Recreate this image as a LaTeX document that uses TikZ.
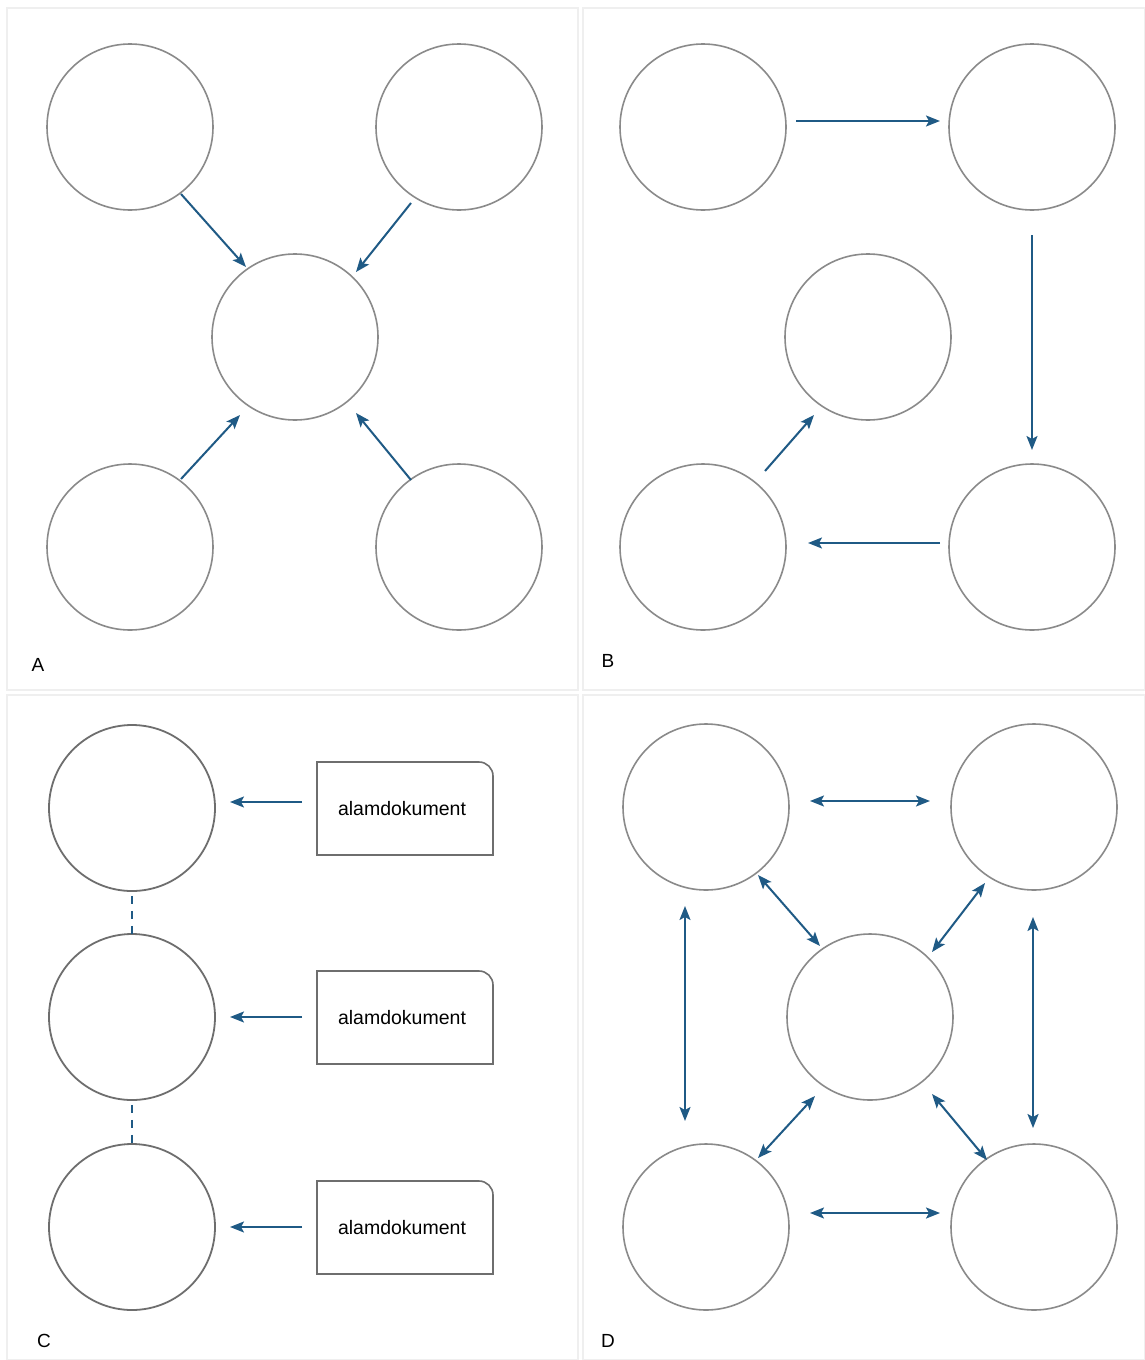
\documentclass[tikz,border=0pt]{standalone}
\usepackage{fontspec}
\setmainfont{Liberation Sans}
\usetikzlibrary{arrows.meta}
\definecolor{arr}{HTML}{1F5A85}
\definecolor{circ}{HTML}{8A8A8A}
\definecolor{circc}{HTML}{6E6E6E}
\definecolor{panel}{HTML}{EFEFEF}
\begin{document}
\begin{tikzpicture}[x=1pt,y=-1pt,
  bub/.style={circle,draw=circ,line width=1.6pt,minimum size=166pt,inner sep=0pt},
  bubc/.style={circle,draw=circc,line width=1.8pt,minimum size=166pt,inner sep=0pt},
  conn/.style={draw=arr,line width=2pt,-{Stealth[length=14pt,width=11pt,inset=3pt]}},
  bconn/.style={draw=arr,line width=2pt,{Stealth[length=14pt,width=11pt,inset=3pt]}-{Stealth[length=14pt,width=11pt,inset=3pt]}},
  dconn/.style={draw=arr,line width=2pt,dash pattern=on 8pt off 7pt},
  doctext/.style={font=\fontsize{19.5}{22}\selectfont},
  plabel/.style={font=\fontsize{19}{22}\selectfont,anchor=center},
  pan/.style={draw=panel,line width=1.2pt}]
\useasboundingbox (0,0) rectangle (1145,1360);
\fill[white] (0,0) rectangle (1145,1360);
% panels
\draw[pan] (7,8) rectangle (578,690);
\draw[pan] (583,8) rectangle (1145,690);
\draw[pan] (7,695) rectangle (578,1360);
\draw[pan] (583,695) rectangle (1145,1360);
% ---- Panel A
\node[bub] (a1) at (130,127) {};
\node[bub] (a2) at (459,127) {};
\node[bub] (a0) at (295,337) {};
\node[bub] (a3) at (130,547) {};
\node[bub] (a4) at (459,547) {};
\coordinate (a1s) at (181,194); \coordinate (a1e) at (246,267);
\coordinate (a2s) at (411,203); \coordinate (a2e) at (356,272);
\coordinate (a3s) at (181,479); \coordinate (a3e) at (240,415);
\coordinate (a4s) at (411,480); \coordinate (a4e) at (356,413);
\draw[conn] (a1s) -- (a1e);
\draw[conn] (a2s) -- (a2e);
\draw[conn] (a3s) -- (a3e);
\draw[conn] (a4s) -- (a4e);
\node[plabel] (la) at (38,665) {A};
% ---- Panel B
\node[bub] (b1) at (703,127) {};
\node[bub] (b2) at (1032,127) {};
\node[bub] (b0) at (868,337) {};
\node[bub] (b3) at (703,547) {};
\node[bub] (b4) at (1032,547) {};
\coordinate (b1s) at (796,121); \coordinate (b1e) at (940,121);
\coordinate (b2s) at (1032,235); \coordinate (b2e) at (1032,450);
\coordinate (b3s) at (940,543); \coordinate (b3e) at (808,543);
\coordinate (b4s) at (765,471); \coordinate (b4e) at (814,415);
\draw[conn] (b1s) -- (b1e);
\draw[conn] (b2s) -- (b2e);
\draw[conn] (b3s) -- (b3e);
\draw[conn] (b4s) -- (b4e);
\node[plabel] (lb) at (608,661) {B};
% ---- Panel C
\node[bubc] (c1) at (132,808) {};
\node[bubc] (c2) at (132,1017) {};
\node[bubc] (c3) at (132,1227) {};
\foreach \i/\y in {1/808,2/1017,3/1227}{
  \draw[draw=circc,line width=1.6pt,fill=white] (317,\y-46) -- (479,\y-46) arc[start angle=-90,end angle=0,radius=14] -- (493,\y+47) -- (317,\y+47) -- cycle;
  \node[doctext] (d\i) at (402,\y+1) {alamdokument};
}
\coordinate (c1s) at (302,802); \coordinate (c1e) at (230,802);
\coordinate (c2s) at (302,1017); \coordinate (c2e) at (230,1017);
\coordinate (c3s) at (302,1227); \coordinate (c3e) at (230,1227);
\draw[conn] (c1s) -- (c1e);
\draw[conn] (c2s) -- (c2e);
\draw[conn] (c3s) -- (c3e);
\draw[dconn] (c1.south) ++(0,4) -- ([yshift=-1pt]c2.north);
\draw[dconn] (c2.south) ++(0,4) -- ([yshift=-1pt]c3.north);
\node[plabel] (lc) at (44,1341) {C};
% ---- Panel D
\node[bub] (d1c) at (706,807) {};
\node[bub] (d2c) at (1034,807) {};
\node[bub] (d0c) at (870,1017) {};
\node[bub] (d3c) at (706,1227) {};
\node[bub] (d4c) at (1034,1227) {};
\coordinate (e1s) at (810,801); \coordinate (e1e) at (930,801);
\coordinate (e2s) at (758,875); \coordinate (e2e) at (820,946);
\coordinate (e3s) at (985,883); \coordinate (e3e) at (932,952);
\coordinate (e4s) at (685,906); \coordinate (e4e) at (685,1121);
\coordinate (e5s) at (1033,917); \coordinate (e5e) at (1033,1128);
\coordinate (e6s) at (815,1096); \coordinate (e6e) at (758,1158);
\coordinate (e7s) at (932,1094); \coordinate (e7e) at (987,1160);
\coordinate (e8s) at (810,1213); \coordinate (e8e) at (940,1213);
\foreach \k in {1,...,8}{\draw[bconn] (e\k s) -- (e\k e);}
\node[plabel] (ld) at (608,1341) {D};
\end{tikzpicture}
\end{document}
